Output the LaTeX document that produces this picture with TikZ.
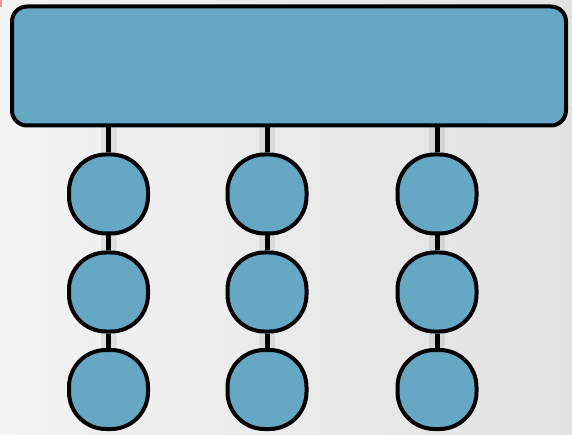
\documentclass[tikz,border=0pt]{standalone}
\definecolor{boxblue}{RGB}{102,168,196}
\definecolor{bgl}{RGB}{243,243,243}
\definecolor{bgr}{RGB}{226,226,226}
\definecolor{corner}{RGB}{240,150,130}
\begin{document}
\begin{tikzpicture}[x=1pt,y=-1pt,
  bigbox/.style={draw=black, line width=4pt, fill=boxblue, rounded corners=15pt, minimum width=554pt, minimum height=119pt, inner sep=0pt},
  ball/.style={draw=black, line width=4pt, fill=boxblue, rounded corners=37pt, minimum width=79pt, minimum height=79pt, inner sep=0pt},
  link/.style={draw=black, line width=5pt},
  linkshadow/.style={draw=black, opacity=0.07, line width=16pt}]
\shade[left color=bgl, right color=bgr] (0,0) rectangle (572,435);
\useasboundingbox (0,0) rectangle (572,435);
\fill[corner] (0,0) rectangle (2,7);
\foreach \c/\x in {1/108.5,2/267,3/437}{
  \coordinate (t\c) at (\x,127);
  \coordinate (e\c) at (\x,360);
  \draw[linkshadow] (t\c) -- (e\c);
}
\node[bigbox] (top) at (289,66) {};
\foreach \c/\x in {1/108.5,2/267,3/437}{
  \foreach \r/\y in {1/194,2/292,3/389.5}{
    \node[ball] (b\c\r) at (\x,\y) {};
  }
}
\foreach \c in {1,2,3}{
  \draw[link] (t\c) -- (b\c1.north);
  \draw[link] (b\c1.south) -- (b\c2.north);
  \draw[link] (b\c2.south) -- (b\c3.north);
}
\end{tikzpicture}
\end{document}
